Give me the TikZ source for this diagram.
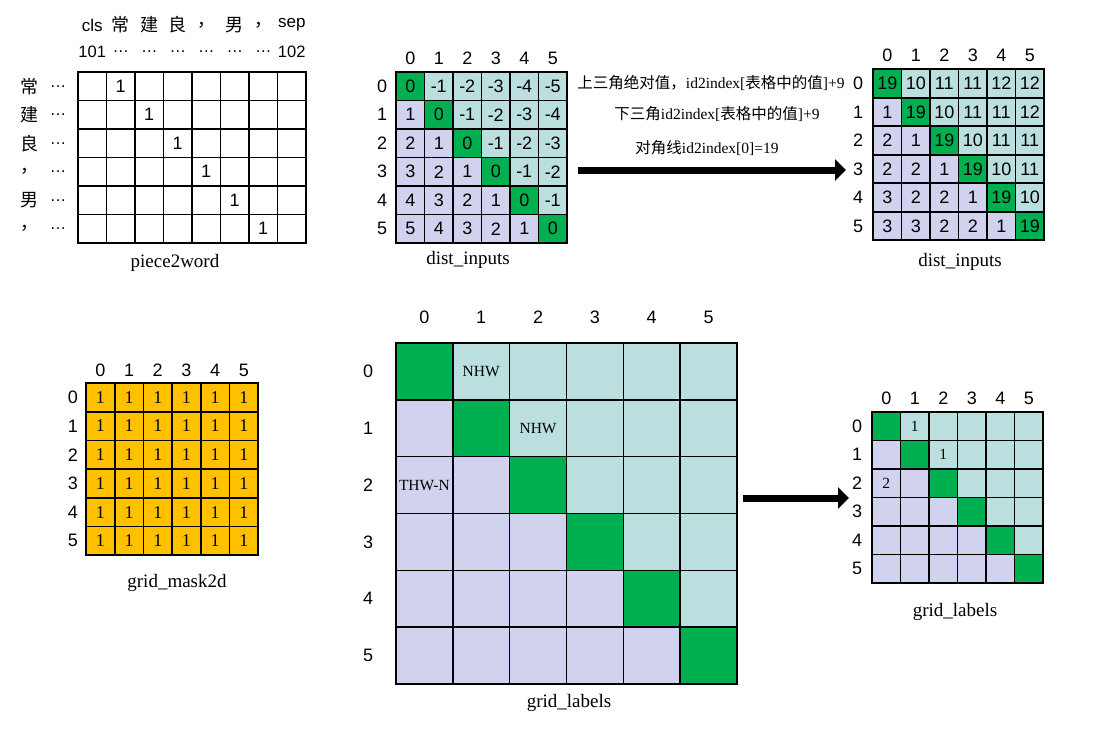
\documentclass[tikz,border=0pt]{standalone}
\usepackage{fontspec}
\setmainfont{Liberation Serif}
\setsansfont{Liberation Sans}
\newfontfamily\cjk{Noto Sans CJK SC}
\usetikzlibrary{arrows.meta}
\definecolor{dgreen}{RGB}{0,176,80}
\definecolor{upcol}{RGB}{187,222,223}
\definecolor{lowcol}{RGB}{208,210,238}
\definecolor{maskcol}{RGB}{255,192,0}
\tikzset{
  cell/.style={draw=black, line width=1.6pt, minimum size=#1, inner sep=0pt, outer sep=0pt},
  cell/.default=28.5pt,
  num/.style={font=\sffamily\fontsize{18}{18}\selectfont, inner sep=0pt},
  hdr/.style={font=\sffamily\fontsize{16.5}{16.5}\selectfont, inner sep=0pt},
  cjkhdr/.style={font=\cjk\fontsize{18}{18}\selectfont, inner sep=0pt},
  captext/.style={font=\fontsize{19}{19}\selectfont, inner sep=0pt},
  note/.style={font=\fontsize{15.5}{15.5}\selectfont, inner sep=0pt},
  serifnum/.style={font=\fontsize{18}{18}\selectfont},
  smallserif/.style={font=\fontsize{15.5}{15.5}\selectfont},
  bigarrow/.style={line width=7pt, -{Triangle[length=11pt,width=21pt]}},
}
\begin{document}
\begin{tikzpicture}[x=1pt,y=-1pt]
\useasboundingbox (0,0) rectangle (1094,736);
\fill[white] (0,0) rectangle (1094,736);

% ---------- piece2word ----------
\foreach \r in {0,...,5}{
  \foreach \c in {0,...,7}{
    \node[cell, num] (P-\r-\c) at ({92.25+28.5*\c},{86.25+28.5*\r}) {\ifnum\c=\numexpr\r+1\relax1\fi};
  }
}
\foreach \t [count=\i from 0] in {{\sffamily\fontsize{17}{17}\selectfont cls},常,建,良,，,男,，,{\sffamily\fontsize{17}{17}\selectfont sep}}{
  \node[cjkhdr] (PH-\i) at ({92.25+28.5*\i},25) {\t};
}
\foreach \t [count=\i from 0] in {101,…,…,…,…,…,…,102}{
  \node[hdr] (PN-\i) at ({92.25+28.5*\i},52) {\t};
}
\foreach \t [count=\i from 0] in {常,建,良,，,男,，}{
  \node[cjkhdr] (PR-\i) at (29,{86.25+28.5*\i}) {\t};
  \node[hdr] (PD-\i) at (58,{86.25+28.5*\i}) {…};
}
\node[captext] (cap1) at (175,263) {piece2word};

% ---------- dist_inputs (left) ----------
\foreach \r in {0,...,5}{
  \foreach \c in {0,...,5}{
    \ifnum\r=\c \def\fc{dgreen}\else\ifnum\c>\r \def\fc{upcol}\else\def\fc{lowcol}\fi\fi
    \node[cell, num, fill=\fc] (D-\r-\c) at ({410.25+28.5*\c},{86.25+28.5*\r}) {\the\numexpr\r-\c\relax};
  }
  \node[num] (DC-\r) at ({410.25+28.5*\r},58) {\r};
  \node[num] (DR-\r) at (382,{86.25+28.5*\r}) {\r};
}
\node[captext] (cap2) at (468,260) {dist\_inputs};

% ---------- notes and arrow ----------
\node[note] (n1) at (711,83) {{\cjk 上三角绝对值，}id2index[{\cjk 表格中的值}]+9};
\node[note] (n2) at (717,114) {{\cjk 下三角}id2index[{\cjk 表格中的值}]+9};
\node[note] (n3) at (707,148) {{\cjk 对角线}id2index[0]=19};
\coordinate (a1s) at (578,170);
\coordinate (a1e) at (846,170);
\draw[bigarrow] (a1s) -- (a1e);

% ---------- dist_inputs (right) ----------
\foreach \row [count=\r from 0] in {{19,10,11,11,12,12},{1,19,10,11,11,12},{2,1,19,10,11,11},{2,2,1,19,10,11},{3,2,2,1,19,10},{3,3,2,2,1,19}}{
  \foreach \v [count=\c from 0] in \row {
    \ifnum\r=\c \def\fc{dgreen}\else\ifnum\c>\r \def\fc{upcol}\else\def\fc{lowcol}\fi\fi
    \node[cell, num, fill=\fc] (E-\r-\c) at ({887.25+28.5*\c},{83.5+28.5*\r}) {\v};
  }
}
\foreach \r in {0,...,5}{
  \node[num] (EC-\r) at ({887.25+28.5*\r},55) {\r};
  \node[num] (ER-\r) at (858,{83.5+28.5*\r}) {\r};
}
\node[captext] (cap3) at (960,262) {dist\_inputs};

% ---------- grid_mask2d ----------
\foreach \r in {0,...,5}{
  \foreach \c in {0,...,5}{
    \node[cell=28.7pt, serifnum, fill=maskcol] (M-\r-\c) at ({100.35+28.7*\c},{397.35+28.7*\r}) {1};
  }
  \node[num] (MC-\r) at ({100.35+28.7*\r},370) {\r};
  \node[num] (MR-\r) at (73,{397.35+28.7*\r}) {\r};
}
\node[captext] (cap4) at (177,583) {grid\_mask2d};

% ---------- grid_labels (big) ----------
\foreach \r in {0,...,5}{
  \foreach \c in {0,...,5}{
    \ifnum\r=\c \def\fc{dgreen}\else\ifnum\c>\r \def\fc{upcol}\else\def\fc{lowcol}\fi\fi
    \node[cell=56.83pt, fill=\fc] (G-\r-\c) at ({424.4+56.83*\c},{371.4+56.83*\r}) {};
  }
  \node[num] (GC-\r) at ({424.4+56.83*\r},317) {\r};
  \node[num] (GR-\r) at (368,{371.4+56.83*\r}) {\r};
}
\node[smallserif] at (G-0-1) {NHW};
\node[smallserif] at (G-1-2) {NHW};
\node[smallserif] at (G-2-0) {THW-N};
\node[captext] (cap5) at (569,703) {grid\_labels};

\coordinate (a2s) at (743,498);
\coordinate (a2e) at (849,498);
\draw[bigarrow] (a2s) -- (a2e);

% ---------- grid_labels (small) ----------
\foreach \r in {0,...,5}{
  \foreach \c in {0,...,5}{
    \ifnum\r=\c \def\fc{dgreen}\else\ifnum\c>\r \def\fc{upcol}\else\def\fc{lowcol}\fi\fi
    \node[cell, fill=\fc] (S-\r-\c) at ({886.25+28.5*\c},{426.25+28.5*\r}) {};
  }
  \node[num] (SC-\r) at ({886.25+28.5*\r},398) {\r};
  \node[num] (SR-\r) at (857,{426.25+28.5*\r}) {\r};
}
\node[smallserif] at (S-0-1) {1};
\node[smallserif] at (S-1-2) {1};
\node[smallserif] at (S-2-0) {2};
\node[captext] (cap6) at (955,612) {grid\_labels};
\end{tikzpicture}
\end{document}
